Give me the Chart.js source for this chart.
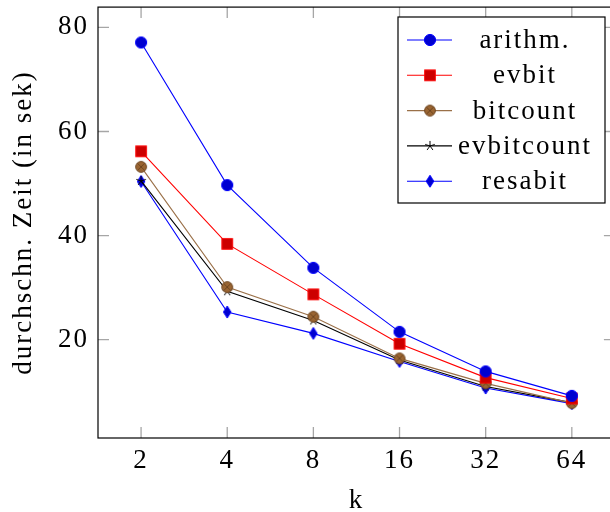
<!DOCTYPE html>
<html>
<head>
<meta charset="utf-8">
<script src="https://cdn.jsdelivr.net/npm/chart.js@4"></script>
<style>
  html, body { margin: 0; padding: 0; overflow: hidden; background: #fff; }
  #wrap { width: 622px; height: 512px; }
</style>
</head>
<body>
<div id="wrap"><canvas id="chart" width="622" height="512"></canvas></div>
<script>
const kLabels = ['2', '4', '8', '16', '32', '64'];
const yTicks = [20, 40, 60, 80];

const arithm     = [77.1, 49.7, 33.8, 21.5, 13.9, 9.2];
const evbit      = [56.2, 38.4, 28.7, 19.2, 12.7, 8.7];
const bitcount   = [53.2, 30.1, 24.4, 16.4, 11.6, 7.8];
const evbitcount = [50.5, 29.3, 23.7, 16.1, 11.0, 7.9];
const resabit    = [50.4, 25.3, 21.2, 15.8, 10.7, 7.7];

const FONT = "'Liberation Serif', 'DejaVu Serif', serif";
const SPACING = '2px';   // widen Times a bit towards Computer Modern

// marker images, used both for the points and the legend
function makeMarker(size, draw) {
    const c = document.createElement('canvas');
    c.width = size; c.height = size;
    const g = c.getContext('2d');
    draw(g, size / 2);
    return c;
}

const mCircle = makeMarker(14, (g, m) => {
    g.beginPath(); g.arc(m, m, 5.6, 0, Math.PI * 2);
    g.fillStyle = '#0000d0'; g.fill();
    g.lineWidth = 1; g.strokeStyle = '#0000ff'; g.stroke();
});
const mSquare = makeMarker(14, (g, m) => {
    g.fillStyle = '#cc0000'; g.fillRect(m - 5.3, m - 5.3, 10.6, 10.6);
    g.lineWidth = 1; g.strokeStyle = '#ff0000'; g.strokeRect(m - 5.3, m - 5.3, 10.6, 10.6);
});
const mOtimes = makeMarker(14, (g, m) => {
    g.beginPath(); g.arc(m, m, 5.4, 0, Math.PI * 2);
    g.fillStyle = '#9a6532'; g.fill();
    g.lineWidth = 1; g.strokeStyle = '#6e4520'; g.stroke();
    const d = 5.4 * Math.SQRT1_2;
    g.beginPath();
    g.moveTo(m - d, m - d); g.lineTo(m + d, m + d);
    g.moveTo(m + d, m - d); g.lineTo(m - d, m + d);
    g.stroke();
});
const mStar = makeMarker(14, (g, m) => {
    g.lineWidth = 1; g.strokeStyle = '#000';
    g.beginPath();
    for (let i = 0; i < 5; i++) {
        const a = -Math.PI / 2 + i * 2 * Math.PI / 5;
        g.moveTo(m, m); g.lineTo(m + 5 * Math.cos(a), m + 5 * Math.sin(a));
    }
    g.stroke();
});
const mDiamond = makeMarker(14, (g, m) => {
    g.beginPath();
    g.moveTo(m, m - 6); g.lineTo(m + 3.8, m); g.lineTo(m, m + 6); g.lineTo(m - 3.8, m);
    g.closePath();
    g.fillStyle = '#0000d0'; g.fill();
    g.lineWidth = 1; g.strokeStyle = '#0000ff'; g.stroke();
});

function series(label, data, color, marker) {
    return {
        label: label,
        data: data,
        borderColor: color,
        borderWidth: 1.1,
        pointStyle: marker,
        pointRadius: 6,
        pointHoverRadius: 6,
        tension: 0,
        fill: false
    };
}

const datasets = [
    series('arithm.', arithm, '#0000ff', mCircle),
    series('evbit', evbit, '#ff0000', mSquare),
    series('bitcount', bitcount, '#9a7048', mOtimes),
    series('evbitcount', evbitcount, '#000000', mStar),
    series('resabit', resabit, '#0000ff', mDiamond)
];

const spacingPlugin = {
    id: 'spacing',
    beforeLayout(chart) { chart.ctx.letterSpacing = SPACING; },
    beforeDraw(chart) { chart.ctx.letterSpacing = SPACING; }
};

// axis frame with inward ticks on all four sides (pgfplots look)
const framePlugin = {
    id: 'frame',
    beforeDatasetsDraw(chart) {
        const { ctx, chartArea: a, scales: { x, y } } = chart;
        const tl = 11;
        ctx.save();
        ctx.strokeStyle = '#a6a6a6';
        ctx.lineWidth = 1.3;
        ctx.beginPath();
        kLabels.forEach((_, i) => {
            const px = x.getPixelForValue(i);
            ctx.moveTo(px, a.bottom); ctx.lineTo(px, a.bottom - tl);
            ctx.moveTo(px, a.top); ctx.lineTo(px, a.top + tl);
        });
        yTicks.forEach(v => {
            const py = y.getPixelForValue(v);
            ctx.moveTo(a.left, py); ctx.lineTo(a.left + tl, py);
            ctx.moveTo(a.right, py); ctx.lineTo(a.right - tl, py);
        });
        ctx.stroke();
        ctx.strokeStyle = '#000';
        ctx.lineWidth = 1.2;
        ctx.strokeRect(a.left, a.top, a.right - a.left, a.bottom - a.top);
        ctx.restore();
    }
};

// boxed legend in the upper right corner
const legendPlugin = {
    id: 'boxLegend',
    afterDatasetsDraw(chart) {
        const ctx = chart.ctx;
        const bx = 398, by = 17, bw = 207, bh = 186;
        ctx.save();
        ctx.fillStyle = '#fff';
        ctx.fillRect(bx, by, bw, bh);
        ctx.strokeStyle = '#000';
        ctx.lineWidth = 1.2;
        ctx.strokeRect(bx, by, bw, bh);
        ctx.font = '27px ' + FONT;
        ctx.letterSpacing = SPACING;
        ctx.textAlign = 'center';
        ctx.textBaseline = 'middle';
        chart.data.datasets.forEach((ds, i) => {
            const ry = 40 + i * 35.3;
            ctx.strokeStyle = ds.borderColor;
            ctx.lineWidth = 1.1;
            ctx.beginPath();
            ctx.moveTo(407, ry); ctx.lineTo(452, ry);
            ctx.stroke();
            const img = ds.pointStyle;
            ctx.drawImage(img, 430 - img.width / 2, ry - img.height / 2);
            ctx.fillStyle = '#000';
            ctx.fillText(ds.label, 525, ry + 1);
        });
        ctx.restore();
    }
};

new Chart(document.getElementById('chart'), {
    type: 'line',
    data: { labels: kLabels, datasets: datasets },
    plugins: [spacingPlugin, framePlugin, legendPlugin],
    options: {
        responsive: false,
        animation: false,
        layout: { padding: { top: 7, right: 1.5, left: 0, bottom: 0 } },
        plugins: {
            legend: { display: false },
            tooltip: { enabled: false }
        },
        scales: {
            x: {
                type: 'category',
                offset: true,
                grid: { display: false, drawTicks: false },
                border: { display: false },
                ticks: {
                    color: '#000',
                    padding: 7,
                    font: { family: FONT, size: 27 }
                },
                title: {
                    display: true,
                    text: 'k',
                    color: '#000',
                    padding: { top: 0, bottom: -2 },
                    font: { family: FONT, size: 27, lineHeight: 1 }
                },
                afterFit(scale) {
                    scale.height = 74;
                    scale.paddingLeft = 0;
                    scale.paddingRight = 0;
                }
            },
            y: {
                min: 1.1,
                max: 83.9,
                grid: { display: false, drawTicks: false },
                border: { display: false },
                afterBuildTicks(scale) {
                    scale.ticks = yTicks.map(v => ({ value: v }));
                },
                ticks: {
                    color: '#000',
                    padding: 9,
                    font: { family: FONT, size: 27 }
                },
                title: {
                    display: true,
                    text: 'durchschn. Zeit (in sek)',
                    color: '#000',
                    padding: { top: 10, bottom: 0 },
                    font: { family: FONT, size: 27, lineHeight: 1 }
                },
                afterFit(scale) {
                    scale.width = 98;
                    scale.paddingTop = 0;
                    scale.paddingBottom = 0;
                }
            }
        }
    }
});
</script>
</body>
</html>
